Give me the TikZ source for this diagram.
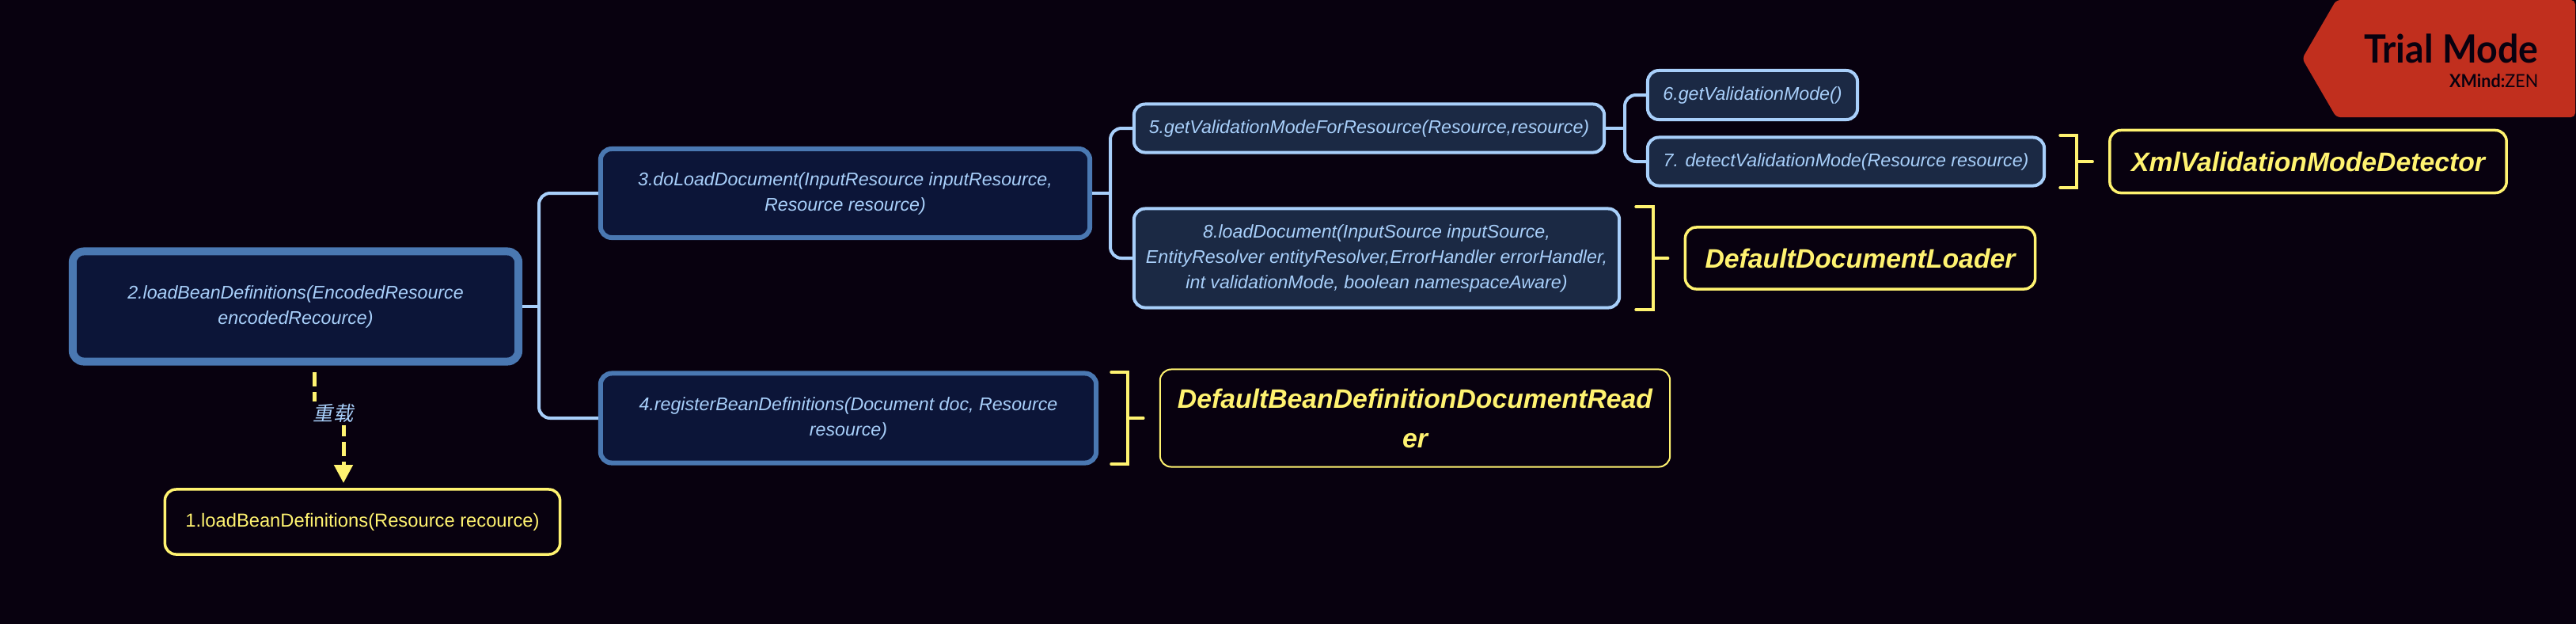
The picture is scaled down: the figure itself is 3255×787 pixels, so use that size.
\documentclass[tikz,border=0pt]{standalone}
\usepackage{fontspec}
\setmainfont{Liberation Sans}
\newfontfamily\cjk[FakeSlant=0.2]{Noto Sans CJK SC}
\newfontfamily\trialfont[FakeStretch=0.945]{Lato}
\definecolor{nightbg}{RGB}{8,1,15}
\definecolor{deepnavy}{RGB}{12,21,56}
\definecolor{slatenavy}{RGB}{27,41,68}
\definecolor{steelblue}{RGB}{74,120,178}
\definecolor{paleblue}{RGB}{168,207,250}
\definecolor{softyellow}{RGB}{255,243,112}
\definecolor{trialred}{RGB}{193,47,30}
\usetikzlibrary{arrows.meta, calc}

\begin{document}
\begin{tikzpicture}[
    x=0.01cm, y=-0.01cm,
    mainbox/.style={draw=steelblue, fill=deepnavy, rounded corners=4pt,
                    line width=0.06cm, text=paleblue, align=center, inner sep=0pt,
                    font=\fontsize{6.6}{9.1}\selectfont\itshape},
    subbox/.style={draw=paleblue, fill=slatenavy, rounded corners=4pt,
                   line width=0.04cm, text=paleblue, align=center, inner sep=0pt,
                   font=\fontsize{6.6}{9.1}\selectfont\itshape},
    notebox/.style={draw=softyellow, rounded corners=4pt, line width=0.035cm,
                    text=softyellow, align=center, inner sep=0pt,
                    font=\fontsize{9.6}{14.2}\selectfont\bfseries\itshape},
    link/.style={draw=paleblue, line width=0.04cm, rounded corners=4pt},
    sumline/.style={draw=softyellow, line width=0.035cm, line cap=round},
    overload/.style={draw=softyellow, line width=0.05cm, dash pattern=on 0.18cm off 0.07cm,
                     -{Triangle[length=0.23cm, width=0.23cm]}}
  ]
    \useasboundingbox (0,0) rectangle (3255,787);
    \fill[nightbg] (-5,-5) rectangle (3260,792);

    % trial banner
    \fill[trialred, rounded corners=1.5pt] (2952,0) -- (3254,0) -- (3254,148)
      -- (2952,148) -- (2909,74) -- cycle;
    \node[anchor=base east, inner sep=0pt, text=nightbg, font=\fontsize{14}{16}\selectfont\trialfont\bfseries]
      (trial) at (3208,79) {Trial Mode};
    \node[anchor=base east, inner sep=0pt, text=nightbg, font=\fontsize{6.5}{7}\selectfont\trialfont]
      (xmind) at (3208,110) {\textbf{XMind:}ZEN};

    % left part
    \node[mainbox, line width=0.1cm, minimum width=5.63cm, minimum height=1.39cm] (n2) at (373.5,387)
      {2.loadBeanDefinitions(EncodedResource\\encodedRecource)};
    \node[notebox, font=\fontsize{6.75}{9.1}\selectfont, minimum width=4.99cm, minimum height=0.82cm] (n1) at (458,659)
      {1.loadBeanDefinitions(Resource recource)};

    \node[mainbox, minimum width=6.18cm, minimum height=1.12cm] (n3) at (1068,244)
      {3.doLoadDocument(InputResource inputResource,\\Resource resource)};
    \node[mainbox, minimum width=6.26cm, minimum height=1.13cm] (n4) at (1072,528)
      {4.registerBeanDefinitions(Document doc, Resource\\resource)};

    \node[subbox, minimum width=5.94cm, minimum height=0.61cm] (n5) at (1730,162) {5.getValidationModeForResource(Resource,resource)};
    \node[subbox, minimum width=6.13cm, minimum height=1.25cm] (n8) at (1739.5,326)
      {8.loadDocument(InputSource inputSource,\\EntityResolver entityResolver,ErrorHandler errorHandler,\\int validationMode, boolean namespaceAware)};
    \node[subbox, minimum width=2.65cm, minimum height=0.62cm] (n6) at (2214.5,120) {6.getValidationMode()};
    \node[subbox, minimum width=5.01cm, minimum height=0.61cm] (n7) at (2332.5,204) {7. detectValidationMode(Resource resource)};

    \node[notebox, minimum width=5.01cm, minimum height=0.79cm] (xml) at (2916.5,204) {XmlValidationModeDetector};
    \node[notebox, minimum width=4.42cm, minimum height=0.78cm] (loader) at (2350.5,326) {DefaultDocumentLoader};
    \node[notebox, line width=0.02cm, minimum width=6.44cm, minimum height=1.23cm] (reader) at (1788,528)
      {DefaultBeanDefinitionDocumentRead\\er};

    % tree links
    \coordinate (j2) at (681,387);
    \coordinate (j3) at (1403,244);
    \coordinate (j5) at (2053,162);
    \draw[link] (n2.east) -- (j2);
    \draw[link] (n3.west) -| (j2) |- (n4.west);
    \draw[link] (n3.east) -- (j3);
    \draw[link] (n5.west) -| (j3) |- (n8.west);
    \draw[link] (n5.east) -- (j5);
    \draw[link] (n6.west) -| (j5) |- (n7.west);

    % summary brackets
    \coordinate (s7) at (2624,204);
    \coordinate (s8) at (2089,326);
    \coordinate (s4) at (1425,528);
    \draw[sumline] ($(s7)+(-21,-33)$) -- ($(s7)+(0,-33)$) -- ($(s7)+(0,33)$) -- ($(s7)+(-21,33)$);
    \draw[sumline] ($(s8)+(-22,-65)$) -- ($(s8)+(0,-65)$) -- ($(s8)+(0,65)$) -- ($(s8)+(-22,65)$);
    \draw[sumline] ($(s4)+(-21,-58)$) -- ($(s4)+(0,-58)$) -- ($(s4)+(0,58)$) -- ($(s4)+(-21,58)$);
    \draw[sumline, shorten >=0.2cm] (s7) -- (xml.west);
    \draw[sumline, shorten >=0.2cm] (s8) -- (loader.west);
    \draw[sumline, shorten >=0.2cm] (s4) -- (reader.west);

    % overload arrow
    \coordinate (o2) at (397,470);
    \coordinate (o1) at (434,610);
    \draw[overload] (o2) -- ++(0,60) -| (o1);
    \node[fill=nightbg, inner sep=1pt, text=paleblue, font=\fontsize{7.2}{9}\selectfont\cjk] (ovl) at (421,522) {重载};
\end{tikzpicture}
\end{document}
